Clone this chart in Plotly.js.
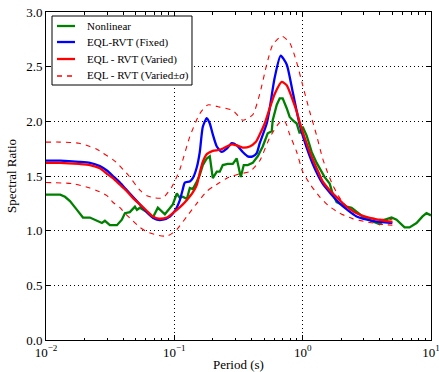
<!DOCTYPE html>
<html>
<head>
<meta charset="utf-8">
<script src="https://cdn.plot.ly/plotly-3.0.1.min.js"></script>
<style>html,body{margin:0;padding:0;background:#fff;}#chart{width:439px;height:372px;}</style>
</head>
<body>
<div id="chart"></div>
<script>
// ---- data (period in s, spectral ratio) ----
var periodNonlinear = [0.01,0.01134,0.0129,0.01406,0.01537,0.01743,0.01941,0.02199,0.02406,0.02728,0.02878,0.03148,0.0357,0.039,0.0412,0.045,0.0493,0.0511,0.0539,0.0611,0.068,0.0744,0.0844,0.0923,0.0973,0.1046,0.1104,0.1165,0.1252,0.132,0.1393,0.1497,0.1579,0.1667,0.179,0.1889,0.1994,0.2142,0.226,0.2385,0.2609,0.2854,0.3064,0.3293,0.3475,0.3733,0.4082,0.4465,0.4884,0.5341,0.574,0.5843,0.6278,0.6622,0.6988,0.7508,0.7922,0.8358,0.8981,0.9478,1.0,1.074,1.175,1.285,1.406,1.483,1.623,1.712,1.839,2.012,2.2,2.406,2.632,2.931,3.443,3.974,4.346,4.927,5.389,5.894,6.22,6.803,7.714,8.59,9.226,10];
var ratioNonlinear  = [1.33,1.33,1.33,1.31,1.27,1.19,1.12,1.12,1.10,1.07,1.09,1.05,1.05,1.10,1.16,1.17,1.22,1.19,1.21,1.17,1.12,1.21,1.15,1.21,1.24,1.34,1.30,1.31,1.29,1.39,1.38,1.45,1.51,1.60,1.66,1.68,1.48,1.54,1.54,1.60,1.61,1.61,1.66,1.49,1.60,1.60,1.62,1.68,1.77,1.89,1.91,2.01,2.15,2.21,2.21,2.12,2.04,2.01,1.98,1.89,1.95,1.87,1.72,1.62,1.54,1.49,1.43,1.34,1.26,1.24,1.22,1.21,1.17,1.13,1.09,1.06,1.10,1.12,1.10,1.05,1.03,1.03,1.07,1.13,1.16,1.14];

var periodFixed = [0.01,0.0129,0.0181,0.022,0.0263,0.0298,0.0332,0.0377,0.0419,0.0475,0.0539,0.0611,0.068,0.0731,0.0814,0.0923,0.1009,0.1104,0.1165,0.1207,0.132,0.1393,0.1497,0.1579,0.1667,0.179,0.1889,0.1994,0.2142,0.2343,0.2563,0.2803,0.3064,0.3413,0.3733,0.4082,0.4385,0.4628,0.5247,0.5536,0.6056,0.6742,0.7508,0.8358,0.9478,1.074,1.24,1.431,1.941,2.632,3.505,5.0];
var ratioFixed  = [1.64,1.64,1.63,1.62,1.59,1.55,1.50,1.44,1.38,1.31,1.24,1.17,1.12,1.10,1.10,1.13,1.18,1.28,1.38,1.44,1.45,1.48,1.58,1.72,1.95,2.03,1.98,1.88,1.77,1.72,1.75,1.80,1.78,1.72,1.68,1.68,1.71,1.80,1.98,2.12,2.40,2.60,2.52,2.27,1.97,1.76,1.57,1.43,1.25,1.13,1.09,1.07];

var periodVaried = [0.01,0.0129,0.0181,0.022,0.0263,0.0298,0.0332,0.0377,0.0419,0.0475,0.0539,0.0611,0.068,0.0758,0.0874,0.0973,0.1046,0.1165,0.1252,0.1393,0.1497,0.1579,0.1667,0.179,0.1994,0.226,0.2563,0.2803,0.3064,0.3413,0.3869,0.4306,0.4628,0.5062,0.5536,0.6056,0.6864,0.7508,0.8212,0.8981,0.9478,1.036,1.134,1.24,1.357,1.431,1.623,1.941,2.2,2.632,3.505,5.0];
var ratioVaried  = [1.62,1.62,1.61,1.60,1.57,1.52,1.48,1.42,1.37,1.30,1.24,1.18,1.13,1.11,1.12,1.16,1.19,1.24,1.28,1.35,1.42,1.53,1.63,1.70,1.73,1.74,1.77,1.79,1.78,1.76,1.77,1.81,1.88,1.98,2.12,2.25,2.36,2.33,2.22,2.09,1.99,1.85,1.72,1.61,1.51,1.45,1.37,1.28,1.22,1.16,1.11,1.08];

var periodUpper = [0.01,0.0129,0.0181,0.022,0.0245,0.02777,0.0332,0.0357,0.0443,0.0539,0.0611,0.0705,0.0814,0.0956,0.1104,0.132,0.1579,0.1823,0.226,0.2854,0.3413,0.4082,0.4628,0.5247,0.5843,0.6864,0.7922,0.8981,1.0,1.134,1.285,1.431,1.566,1.712,1.941,2.2,2.777,3.766,5.0];
var ratioUpper  = [1.81,1.81,1.80,1.77,1.75,1.71,1.65,1.62,1.50,1.37,1.32,1.30,1.30,1.40,1.56,1.86,2.07,2.15,2.13,2.10,2.01,2.06,2.25,2.52,2.70,2.78,2.72,2.54,2.33,2.09,1.87,1.66,1.53,1.42,1.30,1.22,1.14,1.11,1.10];

var periodLower = [0.01,0.01623,0.022,0.0245,0.02984,0.0332,0.0377,0.0419,0.0475,0.0539,0.0611,0.0731,0.0874,0.0973,0.1046,0.1252,0.1497,0.179,0.1994,0.226,0.2563,0.2854,0.3234,0.3869,0.4628,0.5536,0.6622,0.7244,0.7922,0.8981,1.0,1.134,1.357,1.623,1.941,2.45,3.148,3.974,5.0];
var ratioLower  = [1.44,1.43,1.39,1.37,1.32,1.26,1.21,1.15,1.09,1.03,0.99,0.96,0.95,0.98,1.01,1.13,1.25,1.36,1.40,1.44,1.48,1.50,1.52,1.54,1.64,1.85,1.99,2.00,1.88,1.72,1.54,1.43,1.31,1.22,1.16,1.11,1.08,1.06,1.05];

var seriesNames = ['Nonlinear','EQL-RVT (Fixed)','EQL - RVT (Varied)','EQL - RVT (Varied\u00b1<i>\u03c3</i>)'];
var xTickVals = [0.01,0.1,1,10];
var xTickText = ['10<sup>\u22122</sup>','10<sup>\u22121</sup>','10<sup>0</sup>','10<sup>1</sup>'];
var yTickVals = [0,0.5,1,1.5,2,2.5,3];

// ---- styles ----
var serif = 'Liberation Serif, Times New Roman, serif';
var colors = ['#008000','#0000ff','#ff0000','#ff0000'];
var widths = [2.3,2.3,2.3,1.1];
var dashes = ['solid','solid','solid','5px,5px'];

var minorVals = [];
[0.01,0.1,1].forEach(function(d){for(var k=2;k<=9;k++){minorVals.push(+(d*k).toPrecision(3));}});

var traces = [
  {x:periodNonlinear,y:ratioNonlinear,name:seriesNames[0],mode:'lines',line:{color:colors[0],width:widths[0]}},
  {x:periodFixed,y:ratioFixed,name:seriesNames[1],mode:'lines',line:{color:colors[1],width:widths[1],shape:'spline',smoothing:0.6}},
  {x:periodVaried,y:ratioVaried,name:seriesNames[2],mode:'lines',line:{color:colors[2],width:widths[2],shape:'spline',smoothing:0.6}},
  {x:periodUpper,y:ratioUpper,name:seriesNames[3],mode:'lines',line:{color:colors[3],width:widths[3],dash:dashes[3],shape:'spline',smoothing:0.6}},
  {x:periodLower,y:ratioLower,name:seriesNames[3],mode:'lines',line:{color:colors[3],width:widths[3],dash:dashes[3],shape:'spline',smoothing:0.6}}
];

// ---- legend box (drawn as shapes + annotations to match the compact matplotlib legend) ----
var legBox = {x0:0.0156,x1:0.3792,y0:0.7774,y1:0.9878};
var legRows = [0.9573,0.9085,0.8567,0.8049];
var legLineX = [0.0286,0.0753];
var legTextX = 0.1013;
var shapes = [{type:'rect',xref:'paper',yref:'paper',x0:legBox.x0,x1:legBox.x1,y0:legBox.y0,y1:legBox.y1,
               fillcolor:'#fff',line:{color:'#000',width:1},layer:'above'}];
var annotations = [];
seriesNames.forEach(function(nm,i){
  shapes.push({type:'line',xref:'paper',yref:'paper',x0:legLineX[0],x1:legLineX[1],y0:legRows[i],y1:legRows[i],
               line:{color:colors[i],width:widths[i]+(i===3?0.2:0),dash:dashes[i]},layer:'above'});
  annotations.push({xref:'paper',yref:'paper',x:legTextX,y:legRows[i],xanchor:'left',yanchor:'middle',showarrow:false,
                    text:nm,font:{family:serif,size:11,color:'#000'}});
});

var layout = {
  width:439, height:372,
  margin:{l:46,r:8,t:12,b:32,pad:0},
  paper_bgcolor:'#fff', plot_bgcolor:'#fff',
  font:{family:serif,size:13,color:'#000'},
  showlegend:false,
  shapes:shapes, annotations:annotations,
  xaxis:{type:'log',range:[-2,1],tickmode:'array',tickvals:xTickVals,ticktext:xTickText,ticklabeloverflow:'allow',
         ticks:'inside',ticklen:5,tickcolor:'#000',showline:true,linecolor:'#000',linewidth:1,mirror:'allticks',
         showgrid:true,gridcolor:'#000',griddash:'1px,3px',gridwidth:1,zeroline:false,
         minor:{tickmode:'array',tickvals:minorVals,ticks:'inside',ticklen:2.5,tickcolor:'#000',showgrid:false},
         title:{text:'Period (s)',font:{family:serif,size:13},standoff:2},
         tickfont:{family:serif,size:13}},
  yaxis:{range:[0,3],tickmode:'array',tickvals:yTickVals,tickformat:'.1f',ticklabeloverflow:'allow',
         ticks:'inside',ticklen:5,tickcolor:'#000',showline:true,linecolor:'#000',linewidth:1,mirror:'allticks',
         showgrid:true,gridcolor:'#000',griddash:'1px,3px',gridwidth:1,zeroline:false,
         title:{text:'Spectral Ratio',font:{family:serif,size:13},standoff:6},
         tickfont:{family:serif,size:13}}
};
Plotly.newPlot('chart',traces,layout,{displayModeBar:false,staticPlot:true});
</script>
</body>
</html>
